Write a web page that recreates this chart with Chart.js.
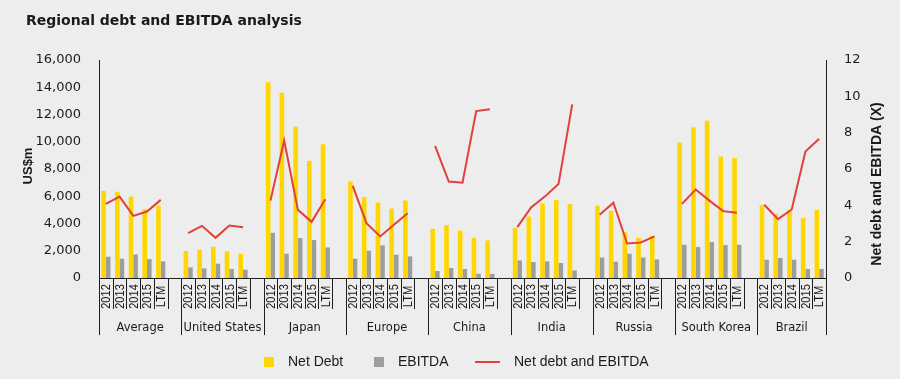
<!DOCTYPE html>
<html>
<head>
<meta charset="utf-8">
<script src="https://cdn.jsdelivr.net/npm/chart.js@4.4.1/dist/chart.umd.min.js"></script>
<style>
  html, body { margin: 0; padding: 0; background: #ededed; }
  canvas { display: block; }
</style>
</head>
<body>
<canvas id="myChart" width="900" height="379"></canvas>
<script>
const regions = ['Average', 'United States', 'Japan', 'Europe', 'China', 'India', 'Russia', 'South Korea', 'Brazil'];
const periods = ['2012', '2013', '2014', '2015', 'LTM'];

// US$m, one row per region
const netDebt = [
  [6400, 6330, 5980, 5060, 5300],
  [1980, 2075, 2295, 1950, 1780],
  [14370, 13600, 11110, 8600, 9820],
  [7080, 5940, 5540, 5100, 5690],
  [3610, 3885, 3490, 2955, 2756],
  [3690, 4515, 5470, 5717, 5425],
  [5300, 4930, 3370, 2955, 3080],
  [9940, 11070, 11550, 8915, 8800],
  [5350, 4713, 5000, 4400, 5000]
];
const ebitda = [
  [1560, 1415, 1730, 1390, 1220],
  [780, 705, 1050, 660, 610],
  [3320, 1780, 2930, 2785, 2245],
  [1415, 2000, 2390, 1710, 1585],
  [513, 733, 660, 315, 293],
  [1290, 1170, 1220, 1100, 560],
  [1510, 1195, 1780, 1510, 1363],
  [2440, 2270, 2640, 2420, 2440],
  [1340, 1466, 1340, 660, 660]
];
// net debt / EBITDA (x)
const ratio = [
  [4.08, 4.48, 3.42, 3.66, 4.30],
  [2.47, 2.87, 2.21, 2.89, 2.80],
  [4.26, 7.56, 3.75, 3.09, 4.34],
  [5.07, 3.02, 2.29, 2.93, 3.57],
  [7.27, 5.31, 5.25, 9.19, 9.29],
  [2.80, 3.88, 4.48, 5.18, 9.56],
  [3.48, 4.14, 1.90, 1.96, 2.29],
  [4.08, 4.87, 4.26, 3.68, 3.59],
  [4.03, 3.24, 3.77, 6.96, 7.67]
];

const YELLOW = '#ffd700';
const GREY = '#9d9d9d';
const RED = '#e0413a';
const INK = '#1e1e1e';

// flatten, one empty slot between regions
const labels = [], debtData = [], ebitdaData = [], ratioData = [];
regions.forEach((r, g) => {
  periods.forEach((p, k) => {
    labels.push(p);
    debtData.push(netDebt[g][k]);
    ebitdaData.push(ebitda[g][k]);
    ratioData.push(ratio[g][k]);
  });
  if (g < regions.length - 1) {
    labels.push('');
    debtData.push(null);
    ebitdaData.push(null);
    ratioData.push(null);
  }
});

function vline(ctx, x, y0, y1) {
  const px = Math.round(x) + 0.5;
  ctx.beginPath();
  ctx.moveTo(px, y0);
  ctx.lineTo(px, y1);
  ctx.stroke();
}

const decorations = {
  id: 'decorations',
  afterDraw: (chart) => {
    const { ctx, chartArea: { bottom, right } } = chart;
    const x = chart.scales.x;
    const step = x.getPixelForValue(1) - x.getPixelForValue(0);
    ctx.save();

    // title
    ctx.fillStyle = '#1a1a1a';
    ctx.font = 'bold 14px "DejaVu Sans", sans-serif';
    ctx.textAlign = 'left';
    ctx.textBaseline = 'middle';
    ctx.fillText('Regional debt and EBITDA analysis', 26, 21);

    // axis titles, both reading bottom to top
    ctx.font = 'bold 13px "Liberation Sans", Arial, sans-serif';
    ctx.textAlign = 'center';
    ctx.save();
    ctx.translate(28, 166);
    ctx.rotate(-Math.PI / 2);
    ctx.fillText('US$m', 0, 0);
    ctx.restore();
    ctx.font = 'bold 14px "Liberation Sans", Arial, sans-serif';
    ctx.save();
    ctx.translate(877, 184);
    ctx.rotate(-Math.PI / 2);
    ctx.fillText('Net debt and EBITDA (X)', 0, 0);
    ctx.restore();

    // two level x axis
    ctx.strokeStyle = INK;
    ctx.lineWidth = 1;
    let idx = 0;
    regions.forEach((r, g) => {
      const gl = x.getPixelForValue(idx) - step / 2;
      vline(ctx, gl, bottom, 335);
      periods.forEach((p) => {
        const cx = x.getPixelForValue(idx);
        ctx.save();
        ctx.translate(cx + 0.5, 296.5);
        ctx.rotate(-Math.PI / 2);
        ctx.scale(0.82, 1);   // narrow look
        ctx.font = '13.5px "Liberation Sans", Arial, sans-serif';
        ctx.fillStyle = '#1a1a1a';
        ctx.textAlign = 'center';
        ctx.textBaseline = 'middle';
        ctx.fillText(p, 0, 0);
        ctx.restore();
        vline(ctx, cx + step / 2, bottom, 309);
        idx++;
      });
      const slots = g < regions.length - 1 ? 6 : 5;
      ctx.font = '11.5px "DejaVu Sans", sans-serif';
      ctx.fillStyle = '#1a1a1a';
      ctx.textAlign = 'center';
      ctx.textBaseline = 'middle';
      ctx.fillText(r, gl + slots * step / 2, 328);
      if (g < regions.length - 1) idx++;
    });
    vline(ctx, right, bottom, 335);

    // legend
    ctx.font = '14px "Liberation Sans", Arial, sans-serif';
    ctx.textAlign = 'left';
    ctx.fillStyle = YELLOW;
    ctx.fillRect(264, 357, 10, 10);
    ctx.fillStyle = GREY;
    ctx.fillRect(374, 357, 10, 10);
    ctx.strokeStyle = RED;
    ctx.lineWidth = 2;
    ctx.beginPath();
    ctx.moveTo(475, 362);
    ctx.lineTo(500, 362);
    ctx.stroke();
    ctx.fillStyle = '#1a1a1a';
    ctx.fillText('Net Debt', 288, 362);
    ctx.fillText('EBITDA', 398, 362);
    ctx.fillText('Net debt and EBITDA', 514, 362);
    ctx.restore();
  }
};

const config = {
  data: {
    labels: labels,
    datasets: [
      {
        type: 'bar',
        label: 'Net Debt',
        data: debtData,
        backgroundColor: YELLOW,
        yAxisID: 'y',
        categoryPercentage: 0.67,
        barPercentage: 1,
        order: 1
      },
      {
        type: 'bar',
        label: 'EBITDA',
        data: ebitdaData,
        backgroundColor: GREY,
        yAxisID: 'y',
        categoryPercentage: 0.67,
        barPercentage: 1,
        order: 1
      },
      {
        type: 'line',
        label: 'Net debt and EBITDA',
        data: ratioData,
        borderColor: RED,
        borderWidth: 2,
        pointRadius: 0,
        tension: 0,
        spanGaps: false,
        yAxisID: 'y1',
        order: 0
      }
    ]
  },
  options: {
    responsive: false,
    animation: false,
    events: [],
    layout: {
      padding: { top: 60, left: 0, right: 0, bottom: 0 }
    },
    scales: {
      x: {
        offset: true,
        grid: { display: false },
        border: { display: true, color: INK, width: 1 },
        ticks: { display: false },
        afterFit: (s) => { s.height = 101; }
      },
      y: {
        position: 'left',
        min: 0,
        max: 16000,
        grid: { display: false },
        border: { display: true, color: INK, width: 1 },
        ticks: {
          stepSize: 2000,
          padding: 10,
          color: '#1a1a1a',
          font: { family: '"DejaVu Sans", sans-serif', size: 13 },
          callback: (v) => v.toLocaleString('en-US')
        },
        afterFit: (s) => { s.width = 99; }
      },
      y1: {
        position: 'right',
        min: 0,
        max: 12,
        grid: { display: false },
        border: { display: true, color: INK, width: 1 },
        ticks: {
          stepSize: 2,
          padding: 10,
          color: '#1a1a1a',
          font: { family: '"DejaVu Sans", sans-serif', size: 13 }
        },
        afterFit: (s) => { s.width = 74; }
      }
    },
    plugins: {
      legend: { display: false },
      title: { display: false },
      tooltip: { enabled: false }
    }
  },
  plugins: [decorations]
};

const myChart = new Chart(document.getElementById('myChart'), config);
</script>
</body>
</html>
